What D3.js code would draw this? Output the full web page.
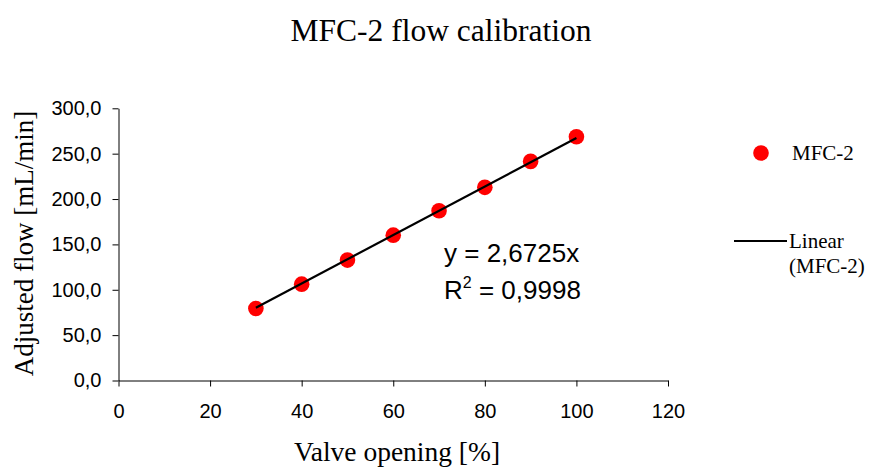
<!DOCTYPE html>
<html>
<head>
<meta charset="utf-8">
<script src="https://cdn.jsdelivr.net/npm/d3@7"></script>
<style>
  html, body { margin: 0; padding: 0; background: #fff; }
  svg { display: block; }
</style>
</head>
<body>
<svg id="chart" width="869" height="468"></svg>
<script>
// Calibration measurements: valve opening (%) vs adjusted flow (mL/min)
const valveOpening = [30, 40, 50, 60, 70, 80, 90, 100];
const adjustedFlow = [79.4, 106.2, 132.7, 160.2, 187.1, 212.9, 241.5, 268.7];

// Linear trendline through the origin
const slope = 2.6725;
const rSquared = 0.9998;

const xTicks = [0, 20, 40, 60, 80, 100, 120];
const yTicks = [0, 50, 100, 150, 200, 250, 300];

const serif = "'Liberation Serif', 'Times New Roman', serif";
const sans = "'Liberation Sans', Arial, sans-serif";

const svg = d3.select("#chart");
const plot = { left: 118.5, right: 668, top: 108.3, bottom: 380.5 };

const x = d3.scaleLinear().domain([0, 120]).range([plot.left, plot.right]);
const y = d3.scaleLinear().domain([0, 300]).range([plot.bottom, plot.top]);

const comma = d3.formatLocale({ decimal: ",", thousands: ".", grouping: [3], currency: ["", ""] });
const fmtY = comma.format(".1f");

// Title
svg.append("text")
  .attr("x", 441).attr("y", 41)
  .attr("text-anchor", "middle")
  .style("font-family", serif).style("font-size", "31.5px")
  .text("MFC-2 flow calibration");

// Axes
const xAxis = svg.append("g")
  .attr("transform", `translate(0,${plot.bottom})`)
  .call(d3.axisBottom(x).tickValues(xTicks).tickSize(6).tickPadding(7).tickSizeOuter(0));
const yAxis = svg.append("g")
  .attr("transform", `translate(${plot.left},0)`)
  .call(d3.axisLeft(y).tickValues(yTicks).tickFormat(fmtY).tickSize(6).tickPadding(11).tickSizeOuter(0));

[xAxis, yAxis].forEach(g => {
  g.select(".domain").attr("stroke", "#000").attr("stroke-width", 1);
  g.selectAll(".tick line").attr("stroke", "#000").attr("stroke-width", 1);
  g.selectAll(".tick text")
    .attr("fill", "#000")
    .style("font-family", sans).style("font-size", "20px");
});
xAxis.selectAll(".tick text").attr("dy", "1.22em");

// Axis titles
svg.append("text")
  .attr("x", 397).attr("y", 461)
  .attr("text-anchor", "middle")
  .style("font-family", serif).style("font-size", "27.5px")
  .text("Valve opening [%]");
svg.append("text")
  .attr("transform", `translate(33,243.5) rotate(-90)`)
  .attr("text-anchor", "middle")
  .style("font-family", serif).style("font-size", "27px")
  .text("Adjusted flow [mL/min]");

// Data markers
svg.append("g").selectAll("circle")
  .data(valveOpening.map((v, i) => ({ v, f: adjustedFlow[i] })))
  .join("circle")
  .attr("cx", d => x(d.v))
  .attr("cy", d => y(d.f))
  .attr("r", 7.8)
  .attr("fill", "#ff0000");

// Trendline across the measured range
const xMin = d3.min(valveOpening), xMax = d3.max(valveOpening);
svg.append("line")
  .attr("x1", x(xMin)).attr("y1", y(slope * xMin))
  .attr("x2", x(xMax)).attr("y2", y(slope * xMax))
  .attr("stroke", "#000").attr("stroke-width", 2.2);

// Regression equation
const eq = svg.append("g").style("font-family", sans).style("font-size", "26px");
eq.append("text").attr("x", 444).attr("y", 262)
  .text(`y = ${comma.format(".4f")(slope)}x`);
const r2 = eq.append("text").attr("x", 444).attr("y", 299);
r2.append("tspan").text("R");
r2.append("tspan").attr("dy", -11).style("font-size", "16px").text("2");
r2.append("tspan").attr("dy", 11).text(` = ${comma.format(".4f")(rSquared)}`);

// Legend
const lg = svg.append("g").style("font-family", serif).style("font-size", "21px");
lg.append("circle").attr("cx", 761).attr("cy", 153).attr("r", 7.8).attr("fill", "#ff0000");
lg.append("text").attr("x", 792).attr("y", 160).text("MFC-2");
lg.append("line").attr("x1", 734).attr("x2", 787).attr("y1", 241).attr("y2", 241)
  .attr("stroke", "#000").attr("stroke-width", 2);
lg.append("text").attr("x", 789).attr("y", 248).text("Linear");
lg.append("text").attr("x", 789).attr("y", 273).text("(MFC-2)");
</script>
</body>
</html>
